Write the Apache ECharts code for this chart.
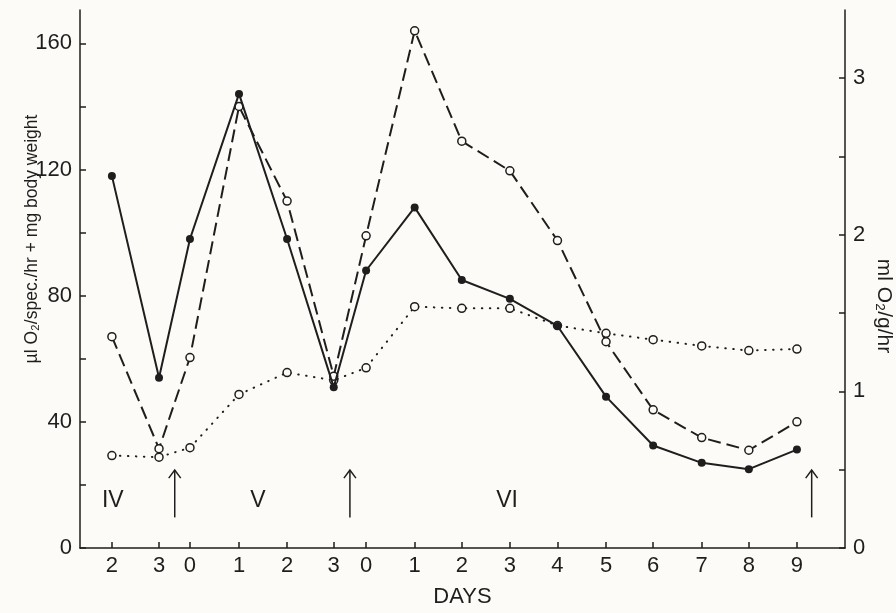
<!DOCTYPE html>
<html><head><meta charset="utf-8">
<script src="https://cdn.jsdelivr.net/npm/echarts@6/dist/echarts.min.js"></script>
<style>html,body{margin:0;padding:0;background:#fcfbf7}#c{width:896px;height:613px}</style>
</head><body><div id="c"></div>
<script>
// Day tick labels and their positions along the time axis (gaps between "3" and "0" are shorter)
const xTickLabels = ['2','3','0','1','2','3','0','1','2','3','4','5','6','7','8','9'];
const xPositions  = [0, 0.99, 1.64, 2.67, 3.68, 4.66, 5.34, 6.36, 7.35, 8.36, 9.36, 10.38, 11.37, 12.39, 13.38, 14.39];

// µl O2/spec./hr (filled circles, solid line) - left axis
const solidValues  = [118, 54, 98, 144, 98, 51, 88, 108, 85, 79, 70.4, 48, 32.5, 27, 25, 31.2];
// µl O2 + mg body weight (open circles, dashed line) - left axis
const dashedValues = [67, 31.5, 60.4, 140, 110, 54.5, 99, 164, 129, 119.6, 97.5, 65.4, 43.8, 35, 31, 40];
// ml O2/g/hr (open circles, dotted line) - right axis
const dottedValues = [0.59, 0.58, 0.64, 0.98, 1.12, 1.07, 1.15, 1.54, 1.53, 1.53, 1.42, 1.37, 1.33, 1.29, 1.26, 1.27];

const leftTicks  = [0, 20, 40, 60, 80, 100, 120, 140, 160];
const leftLabels = [0, 40, 80, 120, 160];
const rightTicks  = [0, 0.5, 1, 1.5, 2, 2.5, 3];
const rightLabels = [0, 1, 2, 3];

// annotations (instar stages and moult arrows), in data units
const romanLabels = ['IV', 'V', 'VI'];
const romanX = [0.02, 3.07, 8.3];
const romanY = 15;
const arrowX = [1.32, 5.0, 14.7];
const arrowBottom = 9.7;
const arrowTop = 24.7;

const ink = '#1e1e1e';
const FONT = '"Liberation Sans", Arial, sans-serif';

const toPairs = (vals) => vals.map((v, i) => [xPositions[i], v]);

const chart = echarts.init(document.getElementById('c'));
chart.setOption({
  animation: false,
  backgroundColor: '#fcfbf7',
  grid: { left: 80, right: 51, top: 10, bottom: 57, containLabel: false },
  xAxis: {
    type: 'value', min: -0.67, max: 15.4,
    splitLine: { show: false },
    axisLine: { onZero: false, lineStyle: { color: ink, width: 1.5 } },
    axisTick: { inside: true, length: 6, customValues: xPositions, lineStyle: { color: ink, width: 1.5 } },
    axisLabel: {
      customValues: xPositions, color: ink, fontSize: 22, fontFamily: FONT, margin: 7,
      formatter: (v) => { let best = 0; xPositions.forEach((p, i) => { if (Math.abs(p - v) < Math.abs(xPositions[best] - v)) best = i; }); return xTickLabels[best]; }
    },
    name: 'DAYS', nameLocation: 'middle', nameGap: 38,
    nameTextStyle: { color: ink, fontSize: 22, fontFamily: FONT }
  },
  yAxis: [
    {
      type: 'value', min: 0, max: 170.6, position: 'left',
      splitLine: { show: false },
      axisLine: { show: true, onZero: false, lineStyle: { color: ink, width: 1.5 } },
      axisTick: { show: true, inside: true, length: 6, customValues: leftTicks, lineStyle: { color: ink, width: 1.5 } },
      axisLabel: { customValues: leftLabels, color: ink, fontSize: 22, fontFamily: FONT, margin: 8 }
    },
    {
      type: 'value', min: 0, max: 3.434, position: 'right',
      splitLine: { show: false },
      axisLine: { show: true, onZero: false, lineStyle: { color: ink, width: 1.5 } },
      axisTick: { show: true, inside: true, length: 6, customValues: rightTicks, lineStyle: { color: ink, width: 1.5 } },
      axisLabel: { customValues: rightLabels, color: ink, fontSize: 22, fontFamily: FONT, margin: 8 }
    }
  ],
  graphic: [
    { type: 'text', x: 32, y: 239, rotation: Math.PI / 2,
      style: { text: 'µl O₂/spec./hr + mg body weight', font: '17.5px ' + FONT, align: 'center', verticalAlign: 'middle', fill: ink } },
    { type: 'text', x: 884, y: 306, rotation: -Math.PI / 2,
      style: { text: 'ml O₂/g/hr', font: '21px ' + FONT, align: 'center', verticalAlign: 'middle', fill: ink } }
  ],
  series: [
    {
      type: 'line', yAxisIndex: 1, data: toPairs(dottedValues),
      lineStyle: { color: ink, width: 2, type: [0.5, 7.5], cap: 'round' },
      symbol: 'circle', symbolSize: 8, showAllSymbol: true,
      itemStyle: { color: '#fcfbf7', borderColor: ink, borderWidth: 1.5 }, z: 2
    },
    {
      type: 'line', yAxisIndex: 0, data: toPairs(dashedValues),
      lineStyle: { color: ink, width: 2, type: [13, 6] },
      symbol: 'circle', symbolSize: 8, showAllSymbol: true,
      itemStyle: { color: '#fcfbf7', borderColor: ink, borderWidth: 1.5 }, z: 3
    },
    {
      type: 'line', yAxisIndex: 0, data: toPairs(solidValues),
      lineStyle: { color: ink, width: 2 },
      symbol: 'circle', symbolSize: 8, showAllSymbol: true,
      itemStyle: { color: ink, borderColor: ink, borderWidth: 0 }, z: 4
    },
    {
      type: 'custom', yAxisIndex: 0,
      data: arrowX.map(x => [x, arrowBottom, arrowTop]),
      renderItem: (params, api) => {
        const x = api.value(0);
        const p1 = api.coord([x, api.value(1)]);
        const p2 = api.coord([x, api.value(2)]);
        return { type: 'group', children: [
          { type: 'line', shape: { x1: p1[0], y1: p1[1], x2: p2[0], y2: p2[1] }, style: { stroke: ink, lineWidth: 1.5 } },
          { type: 'polyline', shape: { points: [[p2[0] - 6, p2[1] + 8], [p2[0], p2[1]], [p2[0] + 6, p2[1] + 8]] }, style: { stroke: ink, fill: null, lineWidth: 1.5 } }
        ]};
      }, z: 5
    },
    {
      type: 'custom', yAxisIndex: 0,
      data: romanX.map((x, i) => [x, romanY, i]),
      renderItem: (params, api) => {
        const p = api.coord([api.value(0), api.value(1)]);
        return { type: 'text', x: p[0], y: p[1],
          style: { text: romanLabels[api.value(2)], font: '23px ' + FONT, align: 'center', verticalAlign: 'middle', fill: ink } };
      }, z: 5
    }
  ]
});
</script></body></html>
